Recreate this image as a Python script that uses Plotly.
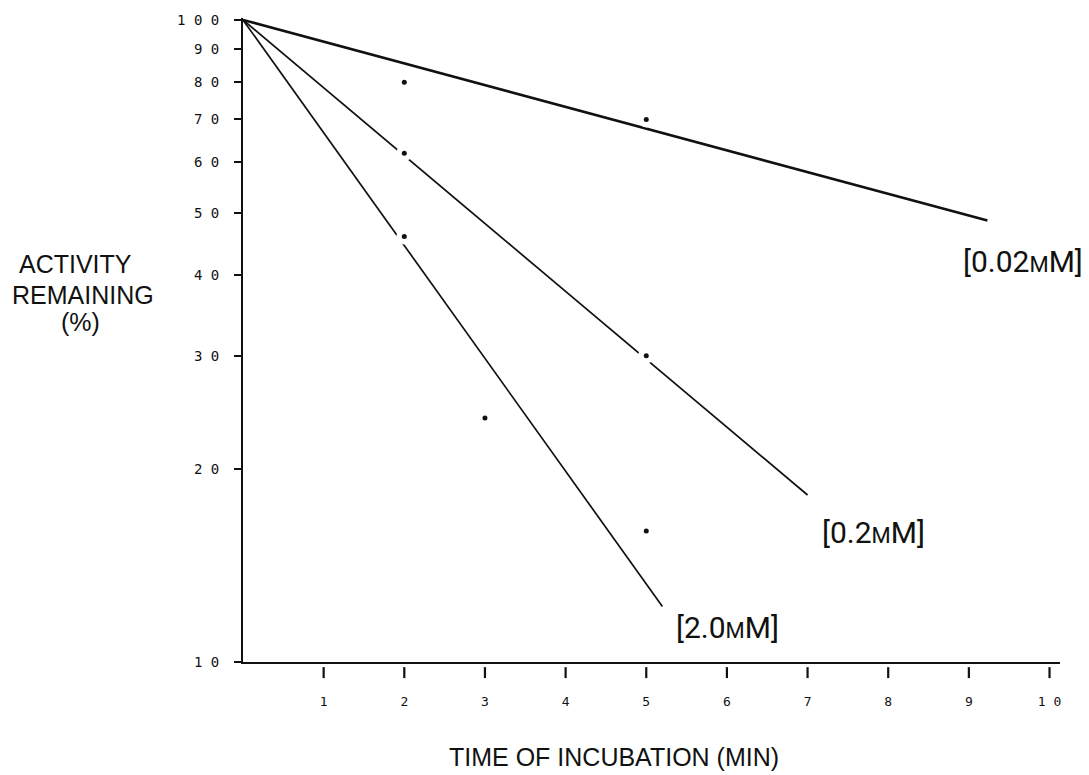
import math
import plotly.graph_objects as go

# Measured activity (% remaining) at each incubation time, per concentration
t_002 = [2, 5]
a_002 = [80, 70]
t_02 = [2, 5]
a_02 = [62, 30]
t_20 = [2, 3, 5]
a_20 = [46, 24, 16]

# Fitted decay lines (start at 100 % at t = 0)
fit_t_002 = [0, 9.23]
fit_a_002 = [100, 48.7]
fit_t_02 = [0, 7.0]
fit_a_02 = [100, 18.2]
fit_t_20 = [0, 5.2]
fit_a_20 = [100, 12.2]

# Axis ticks
x_ticks = [1, 2, 3, 4, 5, 6, 7, 8, 9, 10]
x_ticktext = ["1", "2", "3", "4", "5", "6", "7", "8", "9", "1 0"]
y_ticks = [10, 20, 30, 40, 50, 60, 70, 80, 90, 100]
y_ticktext = ["1 0", "2 0", "3 0", "4 0", "5 0", "6 0", "7 0", "8 0", "9 0", "1 0 0"]

# Curve labels and where they sit (time, % activity)
lab_002 = "[0.02<span style='font-size:22px'>M</span>M]"
lab_02 = "[0.2<span style='font-size:22px'>M</span>M]"
lab_20 = "[2.0<span style='font-size:22px'>M</span>M]"
lab_pos = [(lab_002, 8.90, 42.0), (lab_02, 7.16, 15.9), (lab_20, 5.34, 11.3)]

INK = "#111111"
LABEL_FONT = "Roboto, Liberation Sans, sans-serif"
TICK_FONT = "DejaVu Sans Mono, Liberation Mono, monospace"

fig = go.Figure()

for tx, ay, w in [(fit_t_002, fit_a_002, 2.6), (fit_t_02, fit_a_02, 1.7), (fit_t_20, fit_a_20, 1.7)]:
    fig.add_trace(go.Scatter(x=tx, y=ay, mode="lines",
                             line=dict(color=INK, width=w), hoverinfo="skip"))

all_t = t_002 + t_02 + t_20
all_a = a_002 + a_02 + a_20
# white halo so the fitted line breaks around each point
fig.add_trace(go.Scatter(x=all_t, y=all_a, mode="markers",
                         marker=dict(color="white", size=16), hoverinfo="skip"))
fig.add_trace(go.Scatter(x=all_t, y=all_a, mode="markers",
                         marker=dict(color=INK, size=5)))

# detached x tick marks hanging below the axis line
for xv in x_ticks:
    fig.add_shape(type="line", xref="x", yref="paper", x0=xv, x1=xv,
                  y0=-0.008, y1=-0.025, line=dict(color=INK, width=2.2))

for txt, xv, av in lab_pos:
    fig.add_annotation(x=xv, y=math.log10(av), xref="x", yref="y", text=txt,
                       showarrow=False, xanchor="left", yanchor="middle",
                       font=dict(family=LABEL_FONT, size=30, color=INK))

TITLE_FONT = dict(family="Liberation Sans, Arial, sans-serif", size=25, color=INK)
for txt, xp, yp in [("ACTIVITY", -0.2056, 0.618), ("REMAINING", -0.1958, 0.5703), ("(%)", -0.1995, 0.5286)]:
    fig.add_annotation(x=xp, y=yp, xref="paper", yref="paper", text=txt, showarrow=False,
                       xanchor="center", yanchor="middle", font=TITLE_FONT)
fig.add_annotation(x=0.454, y=-0.148, xref="paper", yref="paper",
                   text="TIME OF INCUBATION (MIN)", showarrow=False,
                   xanchor="center", yanchor="middle", font=TITLE_FONT)

fig.update_xaxes(range=[0, 10.13], showgrid=False, zeroline=False,
                 showline=True, linecolor=INK, linewidth=2,
                 tickmode="array", tickvals=x_ticks, ticktext=x_ticktext,
                 ticks="", ticklabelstandoff=26,
                 tickfont=dict(family=TICK_FONT, size=13, color=INK))
fig.update_yaxes(type="log", range=[1, 2.003], showgrid=False, zeroline=False,
                 showline=True, linecolor=INK, linewidth=2,
                 tickmode="array", tickvals=y_ticks, ticktext=y_ticktext,
                 ticks="outside", ticklen=7, tickwidth=2, tickcolor=INK,
                 ticklabelstandoff=12,
                 tickfont=dict(family=TICK_FONT, size=14, color=INK))

fig.update_layout(width=1089, height=775, showlegend=False,
                  margin=dict(l=243, r=29, t=15, b=113),
                  paper_bgcolor="white", plot_bgcolor="white")

fig.write_html("out.html")
